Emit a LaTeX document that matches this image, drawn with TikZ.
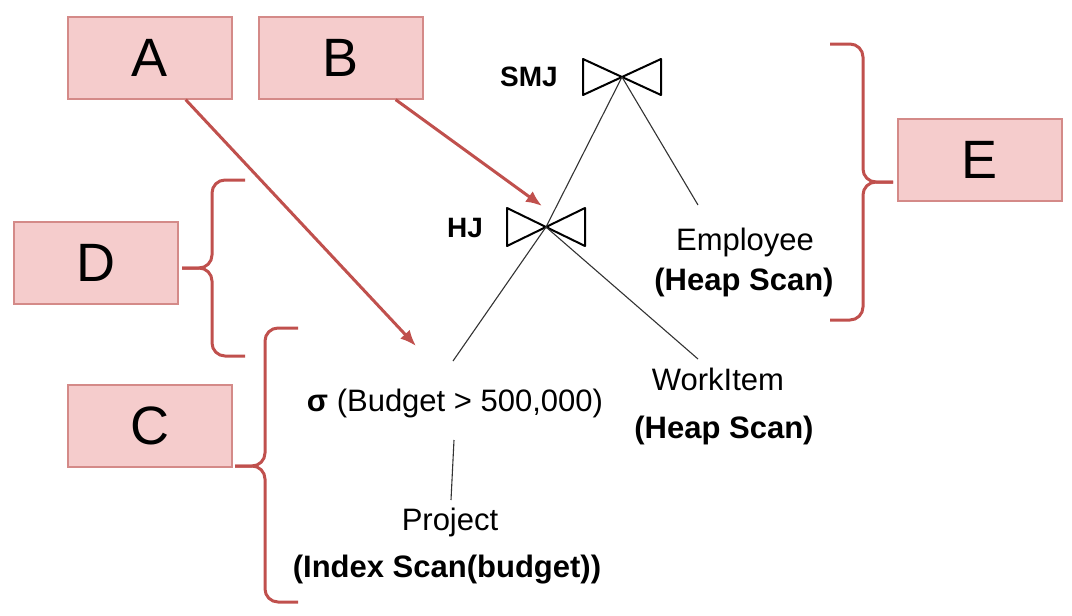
\documentclass[tikz,border=0pt]{standalone}
\usepackage{fontspec}
\setmainfont{Liberation Sans}
\usetikzlibrary{arrows.meta}
\definecolor{boxfill}{HTML}{F5CCCC}
\definecolor{boxline}{HTML}{D48A88}
\definecolor{redline}{HTML}{C0504D}
\tikzset{
  lbox/.style={draw=boxline, line width=1.3pt, fill=boxfill, minimum width=164pt, minimum height=82pt, inner sep=0pt, font=\fontsize{54}{60}\selectfont},
  redarrow/.style={draw=redline, line width=3pt, -{Latex[length=16pt,width=13pt]}},
  brace/.style={draw=redline, line width=3pt, rounded corners=13pt},
  txt/.style={anchor=base, inner sep=0pt, font=\fontsize{31}{34}\selectfont},
  btxt/.style={txt, font=\fontsize{31}{34}\selectfont\bfseries},
  jtxt/.style={anchor=base, inner sep=0pt, font=\fontsize{28}{30}\selectfont\bfseries},
  tree/.style={draw=black!80, line width=1.1pt},
  bowtie/.style={draw=black, line width=2pt, line join=round}
}
\begin{document}
\begin{tikzpicture}[x=1pt,y=-1pt]
\useasboundingbox (0,0) rectangle (1072,616);
% label boxes
\node[lbox] (A) at (150,58) {A};
\node[lbox] (B) at (341,58) {B};
\node[lbox] (D) at (96,263) {D};
\node[lbox] (C) at (150,426) {C};
\node[lbox] (E) at (980,160) {E};
% join symbols
\coordinate (smj) at (622,77);
\coordinate (hj) at (546,227);
\draw[bowtie] ([shift={(-39,-18)}]smj) -- ([shift={(39,18)}]smj) -- ([shift={(39,-18)}]smj) -- ([shift={(-39,18)}]smj) -- cycle;
\draw[bowtie] ([shift={(-39,-19)}]hj) -- ([shift={(39,19)}]hj) -- ([shift={(39,-19)}]hj) -- ([shift={(-39,19)}]hj) -- cycle;
\node[jtxt] (smjl) at (529,86) {SMJ};
\node[jtxt] (hjl) at (465,237) {HJ};
% texts
\node[txt] (emp) at (745,250) {Employee};
\node[btxt] (emph) at (744,290) {(Heap Scan)};
\node[txt] (wi) at (718,390) {WorkItem};
\node[btxt] (wih) at (724,438) {(Heap Scan)};
\node[txt] (sel) at (455,411) {\textbf{σ} (Budget > 500,000)};
\node[txt] (proj) at (450,530) {Project};
\node[btxt] (projh) at (447,577) {(Index Scan(budget))};
% tree edges
\coordinate (empT) at (698,205);
\coordinate (wiT) at (698,359);
\coordinate (selT) at (453,361);
\coordinate (selB) at (454,440);
\coordinate (projT) at (451,500);
\draw[tree] (smj) -- (hj);
\draw[tree] (smj) -- (empT);
\draw[tree] (hj) -- (selT);
\draw[tree] (hj) -- (wiT);
\draw[tree] (selB) -- (projT);
% red arrows
\coordinate (aTip) at (416,346);
\coordinate (bTip) at (542,206);
\draw[redarrow] (A.south east) ++(-47,0) -- (aTip);
\draw[redarrow] (B.south east) ++(-28,0) -- (bTip);
% braces
\draw[brace] (245,180) -- (212,180) -- (212,268) -- (182,268);
\draw[brace] (245,356) -- (212,356) -- (212,268) -- (182,268);
\draw[brace] (298,328) -- (265,328) -- (265,466) -- (235,466);
\draw[brace] (298,602) -- (265,602) -- (265,466) -- (235,466);
\draw[brace] (830,44) -- (863,44) -- (863,182) -- (893,182);
\draw[brace] (830,320) -- (863,320) -- (863,182) -- (893,182);
\end{tikzpicture}
\end{document}
